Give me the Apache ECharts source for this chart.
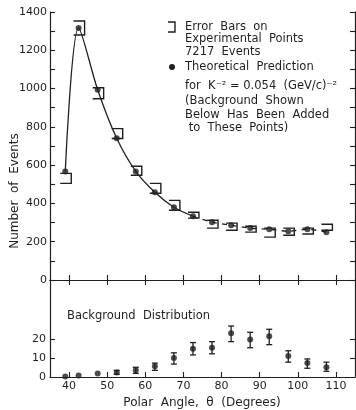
<!DOCTYPE html>
<html>
<head>
<meta charset="utf-8">
<script src="https://cdn.jsdelivr.net/npm/echarts@6/dist/echarts.min.js"></script>
<style>
  html, body { margin: 0; padding: 0; background: #fff; }
  #chart { width: 356px; height: 410px; }
</style>
</head>
<body>
<div id="chart"></div>
<script>
var ink = "#1f1f1f";
var font = "DejaVu Sans";

// polar angle of each bin (degrees)
var angles = [39, 42.5, 47.5, 52.5, 57.5, 62.5, 67.5, 72.5, 77.5, 82.5, 87.5, 92.5, 97.5, 102.5, 107.5];
// theoretical prediction (dots + curve)
var theory = [567, 1317, 994, 740, 567, 458, 380, 333, 302, 286, 271, 265, 255, 265, 250];
// experimental error bars (low / high)
var expLow = [505, 1280, 947, 739, 547, 453, 364, 323, 271, 260, 250, 224, 234, 240, 260];
var expHigh = [557, 1353, 1004, 791, 594, 505, 416, 354, 312, 297, 281, 271, 271, 271, 291];
// background distribution
var bgValue = [0.3, 0.8, 1.9, 2.4, 3.5, 5.7, 10, 14.9, 15.4, 23, 19.7, 21.4, 11.1, 7.3, 5.1];
var bgLow = [null, null, null, 1.4, 1.9, 3.5, 6.8, 11.6, 12.2, 18.6, 15.4, 17, 7.8, 4.6, 3];
var bgHigh = [null, null, null, 3.5, 5.1, 7.3, 12.7, 18.1, 18.6, 26.8, 23.5, 25.1, 13.8, 9.5, 7.8];

var xTicks = [40, 50, 60, 70, 80, 90, 100, 110];
var yTicksTop = [0, 100, 200, 300, 400, 500, 600, 700, 800, 900, 1000, 1100, 1200, 1300, 1400];
var yLabelsTop = [0, 200, 400, 600, 800, 1000, 1200, 1400];
var yTicksBottom = [0, 10, 20];

var legendLines = [
  "Error  Bars  on",
  "Experimental  Points",
  "7217  Events",
  "Theoretical  Prediction",
  "for  K\u207B\u00B2 = 0.054  (GeV/c)\u207B\u00B2",
  "(Background  Shown",
  "Below  Has  Been  Added",
  " to  These  Points)"
];
var legendY = [27, 39, 52, 67, 86, 101, 115, 128];

var chart = echarts.init(document.getElementById("chart"));

var theoryPts = angles.map(function (a, i) { return [a, theory[i]]; });
var solidPts = theoryPts.slice(0, 8);
var dashPts = theoryPts.slice(7);
var expData = angles.map(function (a, i) { return [a, expLow[i], expHigh[i]]; });
var bgPts = angles.map(function (a, i) { return [a, bgValue[i]]; });
var bgErr = [];
angles.forEach(function (a, i) {
  if (bgLow[i] != null) bgErr.push([a, bgLow[i], bgHigh[i]]);
});

function renderBracket(params, api) {
  var lo = api.coord([api.value(0), api.value(1)]);
  var hi = api.coord([api.value(0), api.value(2)]);
  var w = 5;
  return {
    type: "polyline",
    shape: { points: [[hi[0] - w, hi[1]], [hi[0] + w + 1, hi[1]], [lo[0] + w + 1, lo[1]], [lo[0] - w, lo[1]]] },
    style: { stroke: ink, fill: null, lineWidth: 1.4 }
  };
}

function renderErr(params, api) {
  var lo = api.coord([api.value(0), api.value(1)]);
  var hi = api.coord([api.value(0), api.value(2)]);
  var c = 3;
  var st = { stroke: ink, lineWidth: 1.3 };
  return {
    type: "group",
    children: [
      { type: "line", shape: { x1: lo[0], y1: lo[1], x2: hi[0], y2: hi[1] }, style: st },
      { type: "line", shape: { x1: lo[0] - c, y1: lo[1], x2: lo[0] + c, y2: lo[1] }, style: st },
      { type: "line", shape: { x1: hi[0] - c, y1: hi[1], x2: hi[0] + c, y2: hi[1] }, style: st }
    ]
  };
}

var axisLine = { show: true, lineStyle: { color: ink, width: 1.2 } };
var tickIn = function (vals) {
  return { show: true, inside: true, length: 5, customValues: vals, lineStyle: { color: ink, width: 1.1 } };
};
var lab = { color: ink, fontFamily: font, fontSize: 11, formatter: function (v) { return String(v); } };

option = {
  backgroundColor: "#fff",
  animation: false,
  grid: [
    { left: 50, top: 12, width: 305, height: 268 },
    { left: 50, top: 280, width: 305, height: 97 }
  ],
  xAxis: [
    { gridIndex: 0, type: "value", min: 35, max: 115, position: "bottom",
      axisLine: axisLine, axisTick: tickIn(xTicks), axisLabel: { show: false }, splitLine: { show: false } },
    { gridIndex: 0, type: "value", min: 35, max: 115, position: "top",
      axisLine: axisLine, axisTick: tickIn(xTicks), axisLabel: { show: false }, splitLine: { show: false } },
    { gridIndex: 1, type: "value", min: 35, max: 115, position: "bottom",
      axisLine: axisLine, axisTick: tickIn(xTicks),
      axisLabel: Object.assign({ customValues: xTicks, margin: 4 }, lab), splitLine: { show: false } }
  ],
  yAxis: [
    { gridIndex: 0, type: "value", min: 0, max: 1400, position: "left",
      axisLine: axisLine, axisTick: tickIn(yTicksTop),
      axisLabel: Object.assign({ customValues: yLabelsTop, margin: 3 }, lab), splitLine: { show: false } },
    { gridIndex: 0, type: "value", min: 0, max: 1400, position: "right",
      axisLine: axisLine, axisTick: tickIn(yTicksTop), axisLabel: { show: false }, splitLine: { show: false } },
    { gridIndex: 1, type: "value", min: 0, max: 51, position: "left",
      axisLine: axisLine, axisTick: tickIn([10, 20]),
      axisLabel: Object.assign({ customValues: yTicksBottom, margin: 4 }, lab), splitLine: { show: false } },
    { gridIndex: 1, type: "value", min: 0, max: 51, position: "right",
      axisLine: axisLine, axisTick: tickIn([10, 20]), axisLabel: { show: false }, splitLine: { show: false } }
  ],
  series: [
    { type: "line", xAxisIndex: 0, yAxisIndex: 0, data: solidPts, smooth: 0.3,
      showSymbol: false, lineStyle: { color: ink, width: 1.3 } },
    { type: "line", xAxisIndex: 0, yAxisIndex: 0, data: dashPts, smooth: 0.3,
      showSymbol: false, lineStyle: { color: ink, width: 1.3, type: [5, 5] } },
    { type: "custom", xAxisIndex: 0, yAxisIndex: 0, data: expData, renderItem: renderBracket },
    { type: "scatter", xAxisIndex: 0, yAxisIndex: 0, data: theoryPts, symbolSize: 6,
      itemStyle: { color: ink } },
    { type: "custom", xAxisIndex: 2, yAxisIndex: 2, data: bgErr, renderItem: renderErr },
    { type: "scatter", xAxisIndex: 2, yAxisIndex: 2, data: bgPts, symbolSize: 6,
      itemStyle: { color: ink } }
  ],
  graphic: [
    { type: "polyline", shape: { points: [[168, 22], [175, 22], [175, 32], [168, 32]] },
      style: { stroke: ink, fill: null, lineWidth: 1.4 } },
    { type: "circle", shape: { cx: 172, cy: 67, r: 3 }, style: { fill: ink } },
    { type: "text", x: 15, y: 191, rotation: Math.PI / 2,
      style: { text: "Number  of  Events", fill: ink, font: "12px " + font, align: "center", verticalAlign: "middle" } },
    { type: "text", x: 202, y: 403,
      style: { text: "Polar  Angle,  \u03B8  (Degrees)", fill: ink, font: "12px " + font, align: "center", verticalAlign: "middle" } },
    { type: "text", x: 67, y: 316,
      style: { text: "Background  Distribution", fill: ink, font: "11.5px " + font, align: "left", verticalAlign: "middle" } }
  ].concat(legendLines.map(function (t, i) {
    return { type: "text", x: 185, y: legendY[i],
      style: { text: t, fill: ink, font: "11.5px " + font, align: "left", verticalAlign: "middle" } };
  }))
};

option && chart.setOption(option);
</script>
</body>
</html>
